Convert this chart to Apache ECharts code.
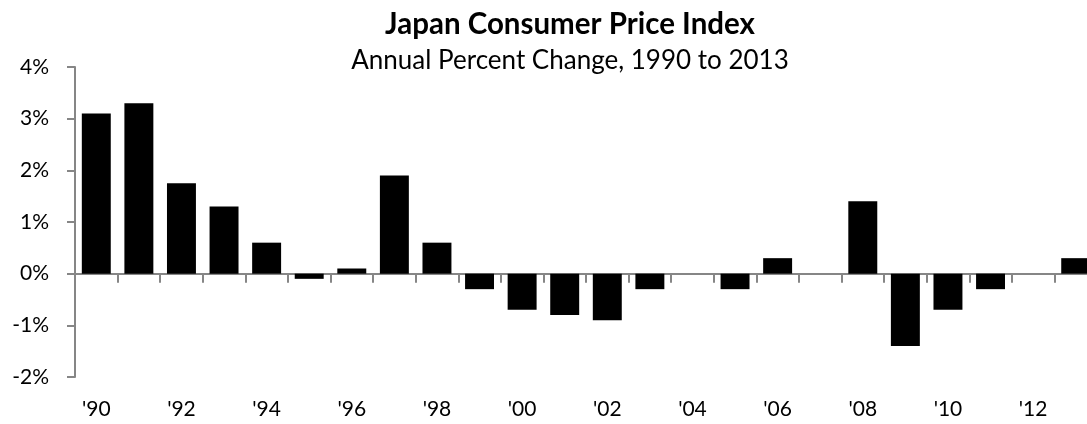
<!DOCTYPE html>
<html>
<head>
<meta charset="utf-8">
<script src="https://cdn.jsdelivr.net/npm/echarts@6/dist/echarts.min.js"></script>
<style>
  html, body { margin: 0; padding: 0; background: #fff; }
  #chart { width: 1087px; height: 424px; }
</style>
</head>
<body>
<div id="chart"></div>
<script>
// Japan CPI, annual % change
const years = ['1990', '1991', '1992', '1993', '1994', '1995', '1996', '1997', '1998', '1999', '2000', '2001',
  '2002', '2003', '2004', '2005', '2006', '2007', '2008', '2009', '2010', '2011', '2012', '2013'];
const cpiChange = [3.1, 3.3, 1.75, 1.3, 0.6, -0.1, 0.1, 1.9, 0.6, -0.3, -0.7, -0.8,
  -0.9, -0.3, 0, -0.3, 0.3, 0, 1.4, -1.4, -0.7, -0.3, 0, 0.3];
const yTicks = [-2, -1, 0, 1, 2, 3, 4];

const titleText = 'Japan Consumer Price Index';
const subText = 'Annual Percent Change, 1990 to 2013';

const font = 'Lato';
const axisGrey = '#868686';

// pick a font size so the text spans the same width as in the original
function fitSize(text, weight, targetWidth) {
  const ctx = document.createElement('canvas').getContext('2d');
  ctx.font = weight + ' 100px ' + font;
  const w = ctx.measureText(text).width;
  return Math.round(100 * targetWidth / w * 2) / 2;
}
const titleSize = fitSize(titleText, 'bold', 370);
const subSize = fitSize(subText, 'normal', 440);

const chart = echarts.init(document.getElementById('chart'));
chart.setOption({
  animation: false,
  textStyle: { fontFamily: font },
  title: [
    {
      text: titleText,
      left: 570,
      top: 35 - titleSize * 0.85,
      textAlign: 'center',
      padding: 0,
      textStyle: { fontFamily: font, fontSize: titleSize, fontWeight: 'bold', color: '#000', lineHeight: titleSize }
    },
    {
      text: subText,
      left: 570,
      top: 70 - subSize * 0.85,
      textAlign: 'center',
      padding: 0,
      textStyle: { fontFamily: font, fontSize: subSize, fontWeight: 'normal', color: '#000', lineHeight: subSize }
    }
  ],
  // the original plot runs a little past the right edge of the picture
  grid: { left: 75, width: 1022, top: 67, bottom: 47, outerBoundsMode: 'none', containLabel: false },
  xAxis: [
    {
      // the axis line sitting on 0, with ticks between bars
      type: 'category',
      data: years,
      axisLine: { onZero: true, lineStyle: { color: axisGrey, width: 2 } },
      axisTick: { show: true, length: 9, alignWithLabel: false, lineStyle: { color: axisGrey, width: 2 } },
      axisLabel: { show: false }
    },
    {
      // labels along the bottom of the plot
      type: 'category',
      data: years,
      position: 'bottom',
      axisLine: { show: false, onZero: false },
      axisTick: { show: false },
      axisLabel: {
        interval: 1,
        margin: 22,
        fontSize: 21,
        color: '#000',
        formatter: v => "'" + v.slice(2)
      }
    }
  ],
  yAxis: {
    type: 'value',
    min: yTicks[0],
    max: yTicks[yTicks.length - 1],
    interval: 1,
    splitLine: { show: false },
    axisLine: { show: true, lineStyle: { color: axisGrey, width: 2 } },
    axisTick: { show: true, length: 8, lineStyle: { color: axisGrey, width: 2 } },
    axisLabel: { fontSize: 21, color: '#000', margin: 26, formatter: v => v + '%' }
  },
  series: [{
    type: 'bar',
    data: cpiChange,
    xAxisIndex: 0,
    barCategoryGap: '32%',
    itemStyle: { color: '#000' }
  }]
});
</script>
</body>
</html>
